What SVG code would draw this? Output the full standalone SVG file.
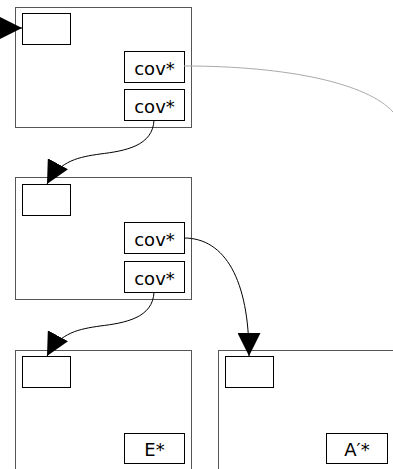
<svg xmlns="http://www.w3.org/2000/svg" width="393" height="469" viewBox="0 0 393 469">
<style>
.outer{fill:#fff;stroke:#555;stroke-width:1}
.inner{fill:#fff;stroke:#000;stroke-width:1}
.lbl{font-family:"DejaVu Sans",sans-serif;font-size:18px;fill:#000;text-anchor:middle}
.edge{fill:none;stroke:#000;stroke-width:1}
.gray{fill:none;stroke:#aaa;stroke-width:1}
</style>
<defs>
<marker id="ah" markerUnits="userSpaceOnUse" markerWidth="23" markerHeight="23" refX="23" refY="11.5" orient="auto" viewBox="0 0 23 23">
<path d="M0,0 L23,11.5 L0,23 z" fill="#000"/>
</marker>
</defs>
<rect width="393" height="469" fill="#fff"/>
<g id="node1">
<rect class="outer" x="15.5" y="7.5" width="176" height="120"/>
<rect class="inner" x="22.5" y="13.5" width="48" height="31"/>
<rect class="inner" x="124.5" y="51.5" width="60" height="31"/>
<text class="lbl" x="154.5" y="74.5">cov*</text>
<rect class="inner" x="124.5" y="89.5" width="60" height="31"/>
<text class="lbl" x="154.5" y="112.5">cov*</text>
</g>
<g id="node2">
<rect class="outer" x="15.5" y="177.5" width="176" height="122"/>
<rect class="inner" x="22.5" y="184.5" width="48" height="31"/>
<rect class="inner" x="124.5" y="222.5" width="60" height="31"/>
<text class="lbl" x="154.5" y="245.5">cov*</text>
<rect class="inner" x="124.5" y="261.5" width="60" height="31"/>
<text class="lbl" x="154.5" y="284.5">cov*</text>
</g>
<g id="node3">
<rect class="outer" x="15.5" y="350.5" width="176" height="130"/>
<rect class="inner" x="22.5" y="356.5" width="48" height="31"/>
<rect class="inner" x="124.5" y="433.5" width="60" height="30"/>
<text class="lbl" x="154.5" y="456">E*</text>
</g>
<g id="node4">
<rect class="outer" x="218.5" y="350.5" width="190" height="130"/>
<rect class="inner" x="225.5" y="356.5" width="48" height="31"/>
<rect class="inner" x="326.5" y="433.5" width="61" height="30"/>
<text class="lbl" x="357" y="456">A′*</text>
</g>
<g id="connectors">
<path class="edge" d="M-10,28 L22,28" marker-end="url(#ah)"/>
<path class="gray" d="M184,66 C290,66 368,84 393,112"/>
<path class="edge" d="M154,120 C153,146 125,151 100,154 C80,157 60,160 47,184" marker-end="url(#ah)"/>
<path class="edge" d="M154,292 C153,318 125,323 100,326 C80,329 60,332 47,356" marker-end="url(#ah)"/>
<path class="edge" d="M184,238 C225,238 249,280 249,356" marker-end="url(#ah)"/>
</g>
</svg>
